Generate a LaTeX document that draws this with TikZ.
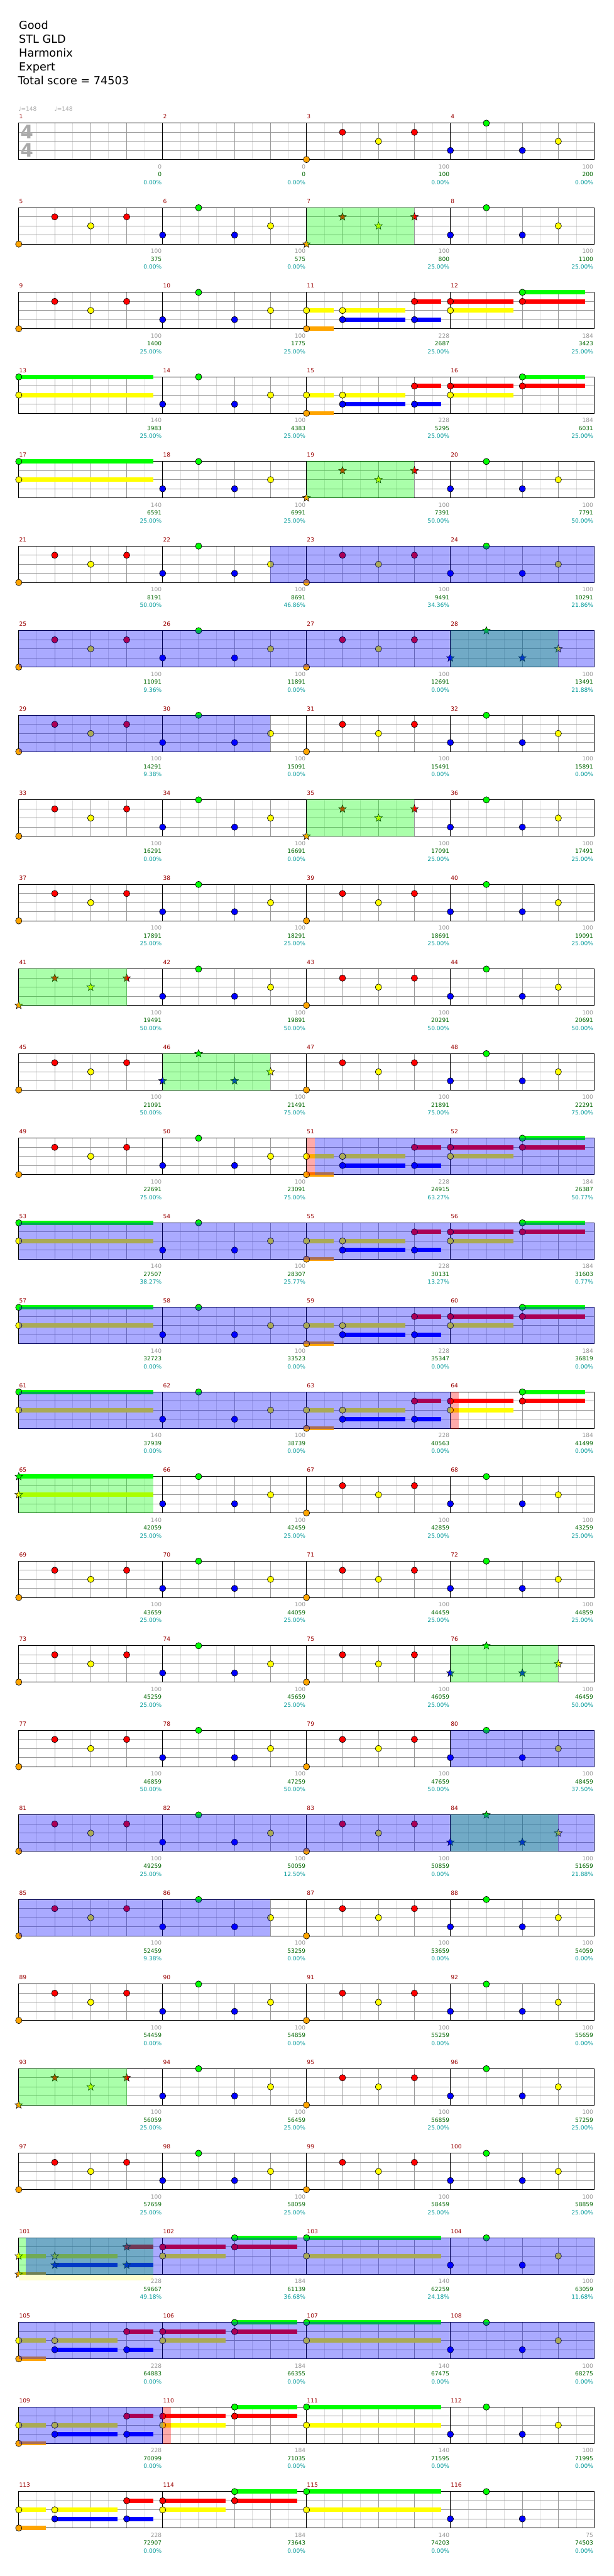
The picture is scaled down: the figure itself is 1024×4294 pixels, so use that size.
\documentclass[tikz,border=0pt]{standalone}
\usepackage{fontspec}
\setmainfont{DejaVu Sans}
\definecolor{cG}{RGB}{0,255,0}
\definecolor{cR}{RGB}{255,0,0}
\definecolor{cY}{RGB}{255,255,0}
\definecolor{cB}{RGB}{0,0,255}
\definecolor{cK}{RGB}{255,165,0}
\definecolor{mnum}{RGB}{153,0,0}
\definecolor{lg}{RGB}{153,153,153}
\definecolor{sg}{RGB}{0,102,0}
\definecolor{pc}{RGB}{0,153,153}
\definecolor{gd}{RGB}{153,153,153}
\definecolor{gl}{RGB}{221,221,221}
\definecolor{tg}{RGB}{170,170,170}
\definecolor{wh}{RGB}{255,255,208}
\tikzset{
  gridlight/.style={draw=gl, line width=1pt},
  griddark/.style={draw=gd, line width=1pt},
  barln/.style={draw=black, line width=1.1pt},
  notec/.style={draw=black, line width=0.7pt},
  lbl/.style={font=\fontsize{9.5}{10}\selectfont, inner sep=0pt},
  hdr/.style={font=\fontsize{18.5}{22}\selectfont, inner sep=0pt, anchor=base west},
}
\newcommand\nt[3]{\filldraw[notec, fill=#1] (30*#3,15.15*#2) circle (5.3);}
\newcommand\sn[3]{\filldraw[notec, fill=#1, line width=0.6pt] (30*#3,15.15*#2) +(270:6.8) -- +(306:2.9) -- +(342:6.8) -- +(18:2.9) -- +(54:6.8) -- +(90:2.9) -- +(126:6.8) -- +(162:2.9) -- +(198:6.8) -- +(234:2.9) -- cycle;}
\newcommand\sus[4]{\fill[#1] (30*#3,15.15*#2-3.5) rectangle (30*#4,15.15*#2+3.5);}
\newcommand\staff[1]{%
 \begin{scope}[shift={(31.3,205.3+141*#1)}]
  \foreach \e in {1,3,...,31} \draw[gridlight] (30*\e,0) -- (30*\e,60.6);
  \foreach \e in {2,4,6,10,12,14,18,20,22,26,28,30} \draw[griddark] (30*\e,0) -- (30*\e,60.6);
  \foreach \l in {1,2,3} \draw[griddark] (0,15.15*\l) -- (960,15.15*\l);
  \foreach \e in {8,16,24} \draw[barln] (30*\e,0) -- (30*\e,60.6);
  \draw[barln] (0,0) rectangle (960,60.6);
  \foreach \i in {0,1,2,3} {\pgfmathtruncatemacro\mn{4*#1+\i+1}
    \node[lbl, anchor=base west, text=mnum] (mn\mn) at (240*\i+0.6,-7.3) {\mn};}
 \end{scope}}
\newcommand\ms[3]{\begin{scope}[shift={(31.3+240*#2,205.3+141*#1)}]#3\end{scope}}
\newcommand\ov[4]{\fill[#1, opacity=0.3333] (31.3+30*#3,205.3+141*#2-0.5) rectangle (31.3+30*#4,205.3+141*#2+61.1);}
\newcommand\lab[5]{%
 \begin{scope}[shift={(31.3+240*#2+238.5,205.3+141*#1+60.6)}]
  \node[lbl,anchor=base east,text=lg] (a#1#2) at (0,15.4) {#3};
  \node[lbl,anchor=base east,text=sg] (b#1#2) at (0,28.4) {#4};
  \node[lbl,anchor=base east,text=pc] (c#1#2) at (0,41.4) {#5\%};
 \end{scope}}
\newcommand\labs[5]{\lab{#1}{0}#2\lab{#1}{1}#3\lab{#1}{2}#4\lab{#1}{3}#5}
% patterns
\newcommand\pA{\nt{cK}{4}{0}\nt{cR}{1}{2}\nt{cY}{2}{4}\nt{cR}{1}{6}}
\newcommand\pB{\nt{cB}{3}{0}\nt{cG}{0}{2}\nt{cB}{3}{4}\nt{cY}{2}{6}}
\newcommand\pC{\nt{cB}{3}{0}\nt{cG}{0}{2}\nt{cB}{3}{4}}
\newcommand\pAs{\sn{cK}{4}{0}\sn{cR}{1}{2}\sn{cY}{2}{4}\sn{cR}{1}{6}}
\newcommand\pBs{\sn{cB}{3}{0}\sn{cG}{0}{2}\sn{cB}{3}{4}\sn{cY}{2}{6}}
\newcommand\pPaS{\sus{cK}{4}{0}{1.5}\sus{cY}{2}{0}{1.5}\sus{cY}{2}{2}{5.5}\sus{cB}{3}{2}{5.5}\sus{cR}{1}{6}{7.5}\sus{cB}{3}{6}{7.5}}
\newcommand\pPa{\pPaS\nt{cK}{4}{0}\nt{cY}{2}{0}\nt{cY}{2}{2}\nt{cB}{3}{2}\nt{cR}{1}{6}\nt{cB}{3}{6}}
\newcommand\pPas{\pPaS\sn{cK}{4}{0}\sn{cY}{2}{0}\sn{cY}{2}{2}\sn{cB}{3}{2}\sn{cR}{1}{6}\sn{cB}{3}{6}}
\newcommand\pPb{\sus{cR}{1}{0}{3.5}\sus{cY}{2}{0}{3.5}\sus{cG}{0}{4}{7.5}\sus{cR}{1}{4}{7.5}\nt{cR}{1}{0}\nt{cY}{2}{0}\nt{cG}{0}{4}\nt{cR}{1}{4}}
\newcommand\pPc{\sus{cG}{0}{0}{7.5}\sus{cY}{2}{0}{7.5}\nt{cG}{0}{0}\nt{cY}{2}{0}}
\newcommand\pPcs{\sus{cG}{0}{0}{7.5}\sus{cY}{2}{0}{7.5}\sn{cG}{0}{0}\sn{cY}{2}{0}}
\newcommand\ABAB[1]{\ms{#1}{0}{\pA}\ms{#1}{1}{\pB}\ms{#1}{2}{\pA}\ms{#1}{3}{\pB}}
\newcommand\PPPP[1]{\ms{#1}{0}{\pPa}\ms{#1}{1}{\pPb}\ms{#1}{2}{\pPc}\ms{#1}{3}{\pB}}
\newcommand\QQQQ[1]{\ms{#1}{0}{\pPc}\ms{#1}{1}{\pB}\ms{#1}{2}{\pPa}\ms{#1}{3}{\pPb}}
\begin{document}
\begin{tikzpicture}[x=1pt,y=-1pt]
\fill[white] (0,0) rectangle (1024,4294);
\useasboundingbox (0,0) rectangle (1024,4294);
\node[hdr] (h1) at (31.5,49) {Good};
\node[hdr] (h2) at (31.5,72) {STL GLD};
\node[hdr] (h3) at (31.5,95) {Harmonix};
\node[hdr] (h4) at (31.5,118) {Expert};
\node[hdr] (h5) at (29.8,141) {Total score = 74503};
\node[lbl, anchor=base west, text=tg] (t1) at (30.5,185) {♩=148};
\node[lbl, anchor=base west, text=tg] (t2) at (90.5,185) {♩=148};
% row 0
\staff{0}
\node[font=\fontsize{31}{31}\bfseries\selectfont, text=tg, inner sep=0] (ts1) at (44.7,220.3) {4};
\node[font=\fontsize{31}{31}\bfseries\selectfont, text=tg, inner sep=0] (ts2) at (44.7,250.3) {4};
\ms{0}{2}{\pA}\ms{0}{3}{\pB}
\labs{0}{{0}{0}{0.00}}{{0}{0}{0.00}}{{100}{100}{0.00}}{{100}{200}{0.00}}
% row 1
\staff{1}
\ms{1}{0}{\pA}\ms{1}{1}{\pB}\ms{1}{2}{\pAs}\ms{1}{3}{\pB}
\ov{cG}{1}{16}{22}
\labs{1}{{100}{375}{0.00}}{{100}{575}{0.00}}{{100}{800}{25.00}}{{100}{1100}{25.00}}
% row 2
\staff{2}
\ms{2}{0}{\pA}\ms{2}{1}{\pB}\ms{2}{2}{\pPa}\ms{2}{3}{\pPb}
\labs{2}{{100}{1400}{25.00}}{{100}{1775}{25.00}}{{228}{2687}{25.00}}{{184}{3423}{25.00}}
% row 3
\staff{3}
\QQQQ{3}
\labs{3}{{140}{3983}{25.00}}{{100}{4383}{25.00}}{{228}{5295}{25.00}}{{184}{6031}{25.00}}
% row 4
\staff{4}
\ms{4}{0}{\pPc}\ms{4}{1}{\pB}\ms{4}{2}{\pAs}\ms{4}{3}{\pB}
\ov{cG}{4}{16}{22}
\labs{4}{{140}{6591}{25.00}}{{100}{6991}{25.00}}{{100}{7391}{50.00}}{{100}{7791}{50.00}}
% row 5
\staff{5}
\ABAB{5}
\ov{cB}{5}{14}{32}
\labs{5}{{100}{8191}{50.00}}{{100}{8691}{46.86}}{{100}{9491}{34.36}}{{100}{10291}{21.86}}
% row 6
\staff{6}
\ms{6}{0}{\pA}\ms{6}{1}{\pB}\ms{6}{2}{\pA}\ms{6}{3}{\pBs}
\ov{cG}{6}{24}{30}\ov{cB}{6}{0}{32}
\labs{6}{{100}{11091}{9.36}}{{100}{11891}{0.00}}{{100}{12691}{0.00}}{{100}{13491}{21.88}}
% row 7
\staff{7}
\ABAB{7}
\ov{cB}{7}{0}{14}
\labs{7}{{100}{14291}{9.38}}{{100}{15091}{0.00}}{{100}{15491}{0.00}}{{100}{15891}{0.00}}
% row 8
\staff{8}
\ms{8}{0}{\pA}\ms{8}{1}{\pB}\ms{8}{2}{\pAs}\ms{8}{3}{\pB}
\ov{cG}{8}{16}{22}
\labs{8}{{100}{16291}{0.00}}{{100}{16691}{0.00}}{{100}{17091}{25.00}}{{100}{17491}{25.00}}
% row 9
\staff{9}
\ABAB{9}
\labs{9}{{100}{17891}{25.00}}{{100}{18291}{25.00}}{{100}{18691}{25.00}}{{100}{19091}{25.00}}
% row 10
\staff{10}
\ms{10}{0}{\pAs}\ms{10}{1}{\pB}\ms{10}{2}{\pA}\ms{10}{3}{\pB}
\ov{cG}{10}{0}{6}
\labs{10}{{100}{19491}{50.00}}{{100}{19891}{50.00}}{{100}{20291}{50.00}}{{100}{20691}{50.00}}
% row 11
\staff{11}
\ms{11}{0}{\pA}\ms{11}{1}{\pBs}\ms{11}{2}{\pA}\ms{11}{3}{\pB}
\ov{cG}{11}{8}{14}
\labs{11}{{100}{21091}{50.00}}{{100}{21491}{75.00}}{{100}{21891}{75.00}}{{100}{22291}{75.00}}
% row 12
\staff{12}
\ms{12}{0}{\pA}\ms{12}{1}{\pB}\ms{12}{2}{\pPa}\ms{12}{3}{\pPb}
\ov{cR}{12}{16}{16.45}\ov{cB}{12}{16.45}{32}
\labs{12}{{100}{22691}{75.00}}{{100}{23091}{75.00}}{{228}{24915}{63.27}}{{184}{26387}{50.77}}
% row 13
\staff{13}
\QQQQ{13}
\ov{cB}{13}{0}{32}
\labs{13}{{140}{27507}{38.27}}{{100}{28307}{25.77}}{{228}{30131}{13.27}}{{184}{31603}{0.77}}
% row 14
\staff{14}
\QQQQ{14}
\ov{cB}{14}{0}{32}
\labs{14}{{140}{32723}{0.00}}{{100}{33523}{0.00}}{{228}{35347}{0.00}}{{184}{36819}{0.00}}
% row 15
\staff{15}
\QQQQ{15}
\ov{cB}{15}{0}{24}\ov{cR}{15}{24}{24.45}
\labs{15}{{140}{37939}{0.00}}{{100}{38739}{0.00}}{{228}{40563}{0.00}}{{184}{41499}{0.00}}
% row 16
\staff{16}
\ms{16}{0}{\pPcs}\ms{16}{1}{\pB}\ms{16}{2}{\pA}\ms{16}{3}{\pB}
\ov{cG}{16}{0}{7.5}
\labs{16}{{140}{42059}{25.00}}{{100}{42459}{25.00}}{{100}{42859}{25.00}}{{100}{43259}{25.00}}
% row 17
\staff{17}
\ABAB{17}
\labs{17}{{100}{43659}{25.00}}{{100}{44059}{25.00}}{{100}{44459}{25.00}}{{100}{44859}{25.00}}
% row 18
\staff{18}
\ms{18}{0}{\pA}\ms{18}{1}{\pB}\ms{18}{2}{\pA}\ms{18}{3}{\pBs}
\ov{cG}{18}{24}{30}
\labs{18}{{100}{45259}{25.00}}{{100}{45659}{25.00}}{{100}{46059}{25.00}}{{100}{46459}{50.00}}
% row 19
\staff{19}
\ABAB{19}
\ov{cB}{19}{24}{32}
\labs{19}{{100}{46859}{50.00}}{{100}{47259}{50.00}}{{100}{47659}{50.00}}{{100}{48459}{37.50}}
% row 20
\staff{20}
\ms{20}{0}{\pA}\ms{20}{1}{\pB}\ms{20}{2}{\pA}\ms{20}{3}{\pBs}
\ov{cG}{20}{24}{30}\ov{cB}{20}{0}{32}
\labs{20}{{100}{49259}{25.00}}{{100}{50059}{12.50}}{{100}{50859}{0.00}}{{100}{51659}{21.88}}
% row 21
\staff{21}
\ABAB{21}
\ov{cB}{21}{0}{14}
\labs{21}{{100}{52459}{9.38}}{{100}{53259}{0.00}}{{100}{53659}{0.00}}{{100}{54059}{0.00}}
% row 22
\staff{22}
\ABAB{22}
\labs{22}{{100}{54459}{0.00}}{{100}{54859}{0.00}}{{100}{55259}{0.00}}{{100}{55659}{0.00}}
% row 23
\staff{23}
\ms{23}{0}{\pAs}\ms{23}{1}{\pB}\ms{23}{2}{\pA}\ms{23}{3}{\pB}
\ov{cG}{23}{0}{6}
\labs{23}{{100}{56059}{25.00}}{{100}{56459}{25.00}}{{100}{56859}{25.00}}{{100}{57259}{25.00}}
% row 24
\staff{24}
\ABAB{24}
\labs{24}{{100}{57659}{25.00}}{{100}{58059}{25.00}}{{100}{58459}{25.00}}{{100}{58859}{25.00}}
% row 25
\staff{25}
\ms{25}{0}{\pPas}\ms{25}{1}{\pPb}\ms{25}{2}{\pPc}\ms{25}{3}{\pB}
\ov{cG}{25}{0}{7.5}\ov{cB}{25}{0.38}{32}
\fill[wh] (31.3,205.3+141*25+61) rectangle (31.3+225,205.3+141*25+71);
\labs{25}{{228}{59667}{49.18}}{{184}{61139}{36.68}}{{140}{62259}{24.18}}{{100}{63059}{11.68}}
% row 26
\staff{26}
\PPPP{26}
\ov{cB}{26}{0}{32}
\labs{26}{{228}{64883}{0.00}}{{184}{66355}{0.00}}{{140}{67475}{0.00}}{{100}{68275}{0.00}}
% row 27
\staff{27}
\PPPP{27}
\ov{cB}{27}{0}{8}\ov{cR}{27}{8}{8.45}
\labs{27}{{228}{70099}{0.00}}{{184}{71035}{0.00}}{{140}{71595}{0.00}}{{100}{71995}{0.00}}
% row 28
\staff{28}
\ms{28}{0}{\pPa}\ms{28}{1}{\pPb}\ms{28}{2}{\pPc}\ms{28}{3}{\pC}
\labs{28}{{228}{72907}{0.00}}{{184}{73643}{0.00}}{{140}{74203}{0.00}}{{75}{74503}{0.00}}
\end{tikzpicture}
\end{document}
